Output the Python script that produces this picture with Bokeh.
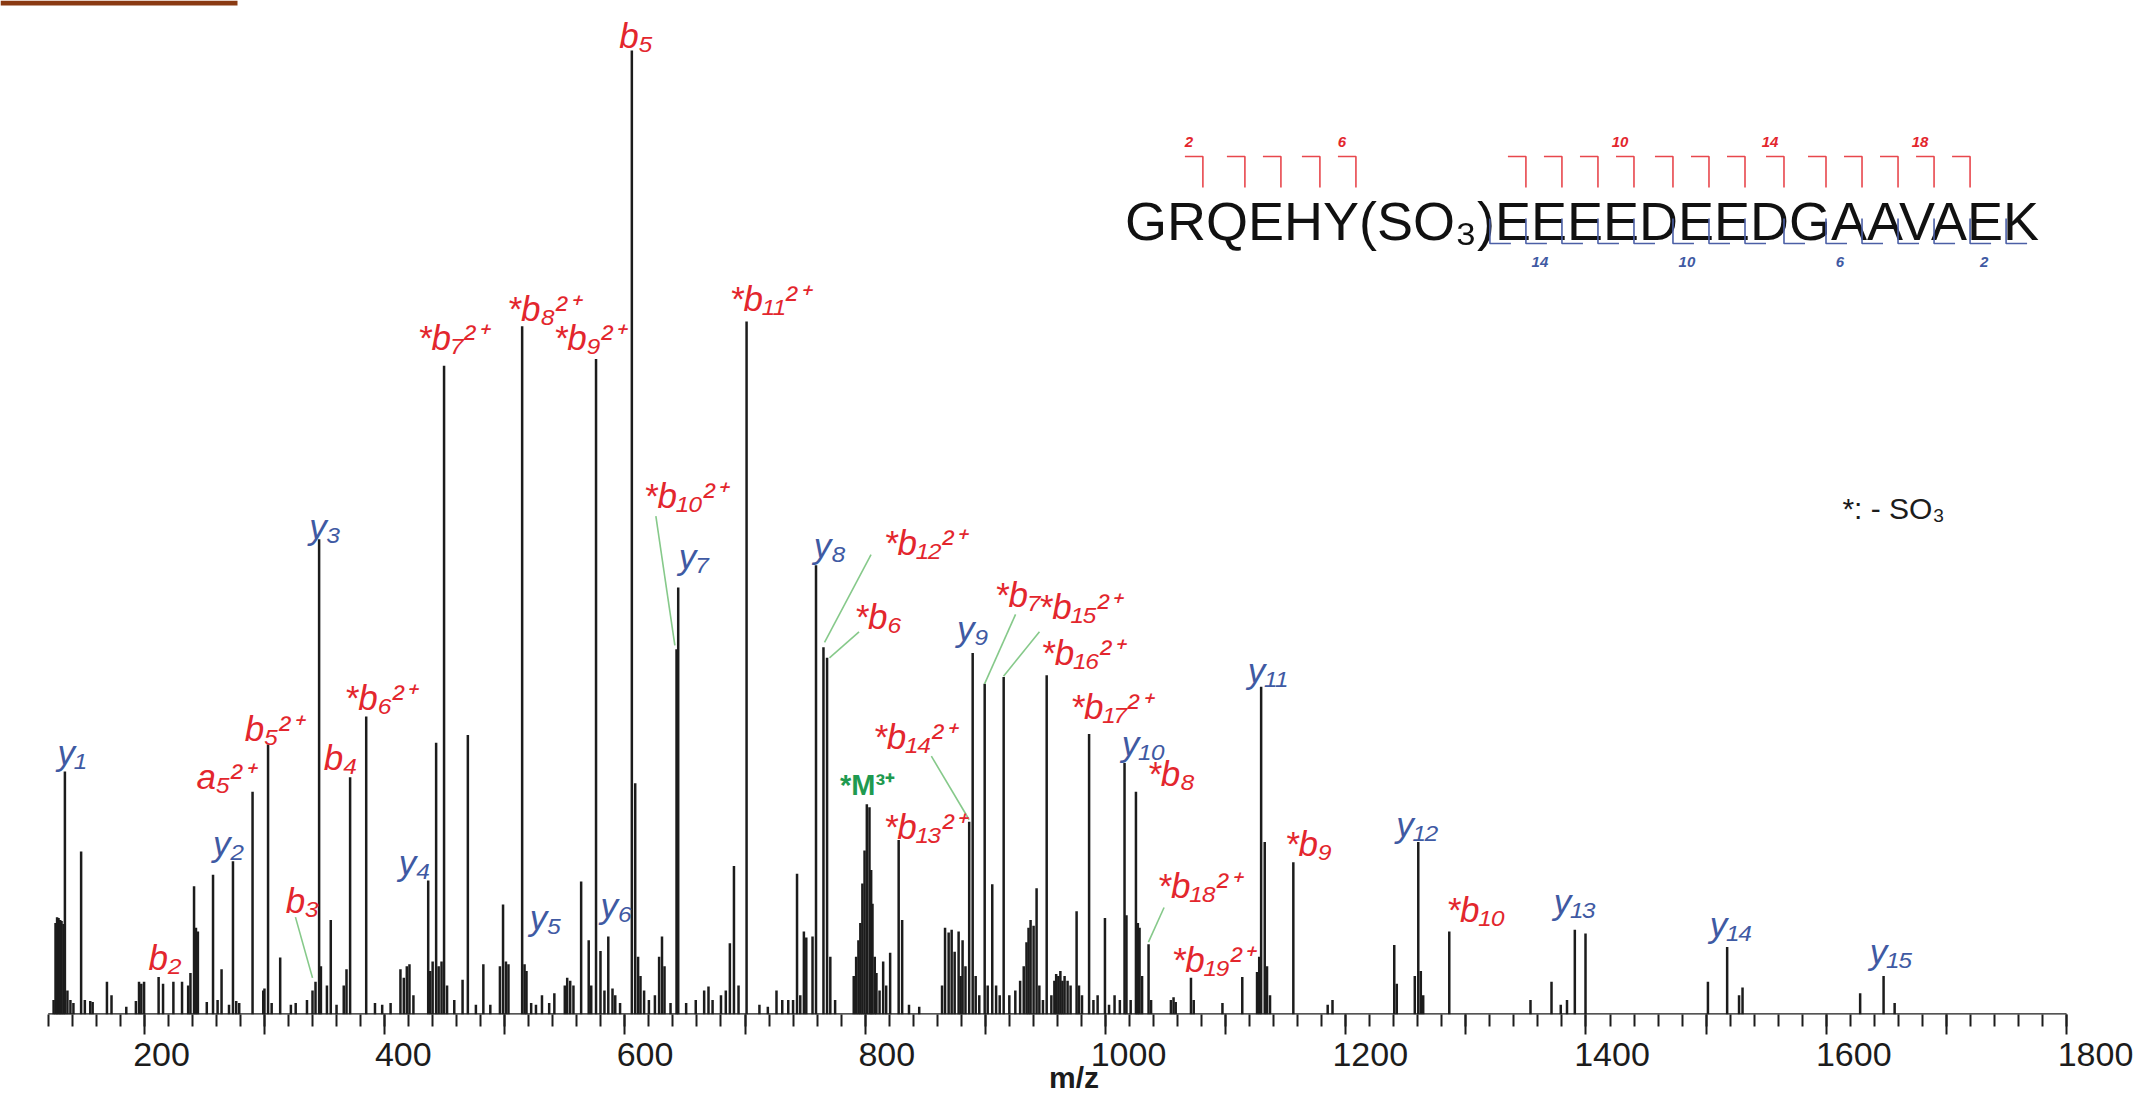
from bokeh.plotting import figure
from bokeh.models import FixedTicker, LinearAxis, Range1d
from bokeh.embed import file_html
from bokeh.resources import INLINE
from bokeh.core.properties import value

# ---------------- data ----------------
PEAK_MZ = [124.5, 126.1, 127.4, 128.6, 130.0, 131.1, 132.7, 133.9, 136.0, 138.5, 141.0, 147.4, 150.5, 155.0, 157.0,
           168.9, 172.7, 185.0, 193.0, 195.6, 197.5, 199.8, 211.9, 215.6, 224.2, 231.4, 236.5, 238.4, 241.4, 243.0,
           244.6, 252.0, 257.2, 261.0, 264.3, 270.5, 273.8, 276.5, 279.0, 290.1, 299.0, 300.0, 303.0, 306.0, 313.1,
           322.0, 326.0, 335.4, 340.0, 342.5, 345.5, 347.0, 352.0, 355.2, 360.0, 366.0, 368.3, 371.3, 384.7, 392.0,
           398.0, 405.0, 413.2, 416.0, 418.5, 420.7, 424.0, 436.3, 438.0, 440.0, 442.9, 445.0, 447.4, 449.5, 452.0,
           458.0, 464.9, 469.3, 476.0, 482.2, 488.0, 496.0, 498.6, 501.0, 503.1, 514.5, 516.5, 518.1, 522.0, 526.0,
           531.0, 537.0, 541.3, 550.0, 552.0, 554.5, 557.2, 563.6, 569.9, 572.0, 576.0, 579.7, 583.0, 586.2, 589.7,
           592.0, 596.0, 605.8, 608.6, 611.0, 613.0, 616.0, 620.0, 625.0, 628.5, 630.9, 633.0, 638.0, 643.0, 644.4,
           651.0, 659.0, 666.0, 669.6, 673.0, 680.0, 684.0, 687.4, 690.8, 694.6, 701.3, 712.0, 719.0, 726.2, 731.0,
           736.0, 740.0, 743.3, 746.0, 749.0, 751.0, 756.2, 759.1, 765.3, 768.3, 771.0, 775.0, 790.5, 792.5, 794.4,
           796.0, 797.7, 799.5, 801.4, 803.6, 805.0, 806.1, 808.0, 809.4, 812.0, 815.0, 817.5, 820.8, 827.9, 830.8,
           836.5, 845.0, 864.0, 866.5, 869.5, 872.0, 874.5, 877.8, 879.5, 881.1, 883.5, 886.6, 889.5, 892.0, 895.0,
           899.5, 902.0, 905.8, 909.0, 912.0, 915.3, 920.0, 925.0, 929.0, 932.0, 934.3, 936.0, 937.7, 940.2, 942.7,
           945.0, 948.0, 951.1, 955.0, 957.5, 959.0, 960.8, 962.5, 964.2, 966.0, 968.5, 971.0, 976.0, 978.0, 980.5,
           986.4, 990.0, 993.5, 999.6, 1003.0, 1007.6, 1012.0, 1015.9, 1017.5, 1021.0, 1025.4, 1027.0, 1028.4, 1030.5,
           1035.9, 1038.0, 1054.5, 1056.7, 1058.5, 1071.2, 1073.5, 1097.4, 1113.9, 1126.2, 1128.0, 1129.6, 1132.6,
           1134.5, 1137.0, 1156.4, 1185.0, 1189.0, 1240.4, 1242.5, 1257.5, 1260.4, 1262.5, 1264.5, 1286.2, 1353.8,
           1371.3, 1379.0, 1384.2, 1390.7, 1399.6, 1501.5, 1517.5, 1527.4, 1530.3, 1628.2, 1647.7, 1656.9]
PEAK_INT = [1.5, 9.5, 10.1, 10.0, 9.8, 9.7, 9.4, 25.2, 2.5, 1.5, 1.2, 16.9, 1.5, 1.4, 1.3,
            3.4, 2.0, 0.8, 1.4, 3.4, 3.2, 3.4, 3.9, 3.2, 3.4, 3.4, 3.0, 4.3, 13.3, 9.0,
            8.6, 1.3, 14.5, 1.5, 4.7, 1.0, 15.9, 1.4, 1.2, 23.1, 2.5, 2.7, 28.0, 1.2, 5.9,
            1.0, 1.2, 1.5, 2.5, 3.4, 49.3, 5.0, 3.0, 9.8, 1.0, 3.0, 4.7, 24.6, 30.9, 1.2,
            1.0, 1.2, 4.7, 3.8, 5.0, 5.2, 2.0, 13.9, 4.5, 5.5, 28.2, 5.0, 5.5, 67.3, 3.0,
            1.5, 3.6, 29.0, 1.0, 5.2, 1.0, 5.0, 11.4, 5.5, 5.2, 71.4, 5.2, 4.5, 1.2, 1.0,
            2.0, 1.2, 2.2, 3.0, 3.8, 3.5, 3.0, 13.8, 7.7, 3.0, 68.0, 6.6, 2.5, 8.1, 2.7,
            2.0, 1.2, 100.0, 24.0, 6.0, 4.0, 2.5, 1.5, 2.0, 6.0, 8.1, 5.0, 1.2, 37.9, 44.3,
            1.2, 1.5, 2.5, 2.9, 1.5, 2.0, 2.5, 7.4, 15.4, 3.0, 71.9, 1.0, 0.8, 2.5, 1.5,
            1.5, 1.5, 14.6, 2.0, 8.6, 8.0, 8.1, 46.6, 38.1, 37.0, 6.0, 1.5, 4.0, 6.0, 7.7,
            9.5, 13.6, 17.0, 21.8, 21.5, 15.0, 11.5, 6.0, 4.3, 2.5, 5.5, 3.0, 6.4, 18.1, 9.8,
            1.0, 0.8, 3.0, 9.0, 8.5, 8.8, 6.5, 8.6, 4.0, 7.7, 5.0, 20.0, 37.5, 4.0, 2.0,
            34.3, 3.0, 13.5, 3.0, 2.0, 35.0, 2.0, 2.5, 3.5, 5.0, 7.5, 9.0, 9.8, 9.2, 13.1,
            3.0, 1.5, 35.2, 2.0, 3.5, 4.2, 4.0, 4.5, 3.5, 4.0, 3.5, 3.0, 10.7, 3.0, 2.0,
            29.1, 1.5, 2.0, 10.0, 1.0, 2.0, 1.5, 26.1, 10.3, 1.5, 23.1, 9.5, 9.0, 4.0,
            7.3, 1.5, 1.5, 1.8, 1.3, 3.8, 1.5, 1.2, 3.9, 4.4, 6.0, 34.0, 17.9,
            5.0, 2.0, 15.8, 1.0, 1.5, 7.2, 3.2, 4.0, 17.9, 4.5, 2.0, 8.6, 1.5,
            3.4, 1.0, 1.5, 8.8, 8.4, 3.4, 7.0, 2.0, 2.8, 2.2, 4.0, 1.2]

# ion annotations (text, label position in m/z and relative intensity, ion series)
ION_TEXT = ["y₁", "b₂", "a₅²⁺", "y₂", "b₅²⁺", "b₃", "y₃", "b₄", "*b₆²⁺", "y₄",
            "*b₇²⁺", "*b₈²⁺", "y₅", "*b₉²⁺", "y₆", "b₅", "*b₁₀²⁺", "y₇", "*b₁₁²⁺", "y₈",
            "*b₁₂²⁺", "*b₆", "*b₁₃²⁺", "*b₁₄²⁺", "y₉", "*b₇", "*b₁₅²⁺", "*b₁₆²⁺", "*b₁₇²⁺", "y₁₀",
            "*b₈", "*b₁₈²⁺", "*b₁₉²⁺", "y₁₁", "*b₉", "y₁₂", "*b₁₀", "y₁₃", "y₁₄", "y₁₅"]
ION_MZ = [139.6, 217.1, 267.2, 270.1, 307.4, 331.7, 350.3, 363.3, 396.2, 424.9,
          456.4, 531.9, 533.9, 570.1, 592.9, 609.3, 650.1, 657.3, 720.2, 770.6,
          849.4, 810.7, 849.4, 840.7, 889.4, 926.8, 978.4, 980.5, 1004.2, 1031.7,
          1054.6, 1077.5, 1089.1, 1134.9, 1169.0, 1259.5, 1308.3, 1390.8, 1520.7, 1654.0]
ION_INT = [27.2, 5.9, 24.7, 17.7, 29.7, 11.8, 50.6, 26.7, 32.9, 15.8,
           70.2, 73.2, 10.1, 70.2, 11.3, 101.6, 53.8, 47.5, 74.3, 48.6,
           49.0, 41.3, 19.5, 28.8, 40.0, 43.6, 42.3, 37.6, 32.0, 28.1,
           25.0, 13.4, 5.7, 35.7, 17.7, 19.7, 10.9, 11.7, 9.3, 6.5]
ION_SERIES = ["y", "b", "b", "y", "b", "b", "y", "b", "b", "y",
              "b", "b", "y", "b", "y", "b", "b", "y", "b", "y",
              "b", "b", "b", "b", "y", "b", "b", "b", "b", "y",
              "b", "b", "b", "y", "b", "y", "b", "y", "y", "y"]
PRECURSOR_TEXT = ["*M³⁺"]
PRECURSOR_MZ = [802.0]
PRECURSOR_INT = [23.8]

# leader lines from label to peak (m/z, intensity)
LEAD_MZ0 = [325.8, 625.8, 804.9, 794.9, 925.2, 945.1, 855.1, 1048.8]
LEAD_INT0 = [10.1, 51.7, 47.7, 39.7, 41.5, 39.7, 26.8, 11.1]
LEAD_MZ1 = [340.0, 641.6, 766.2, 770.3, 899.4, 915.2, 886.6, 1035.8]
LEAD_INT1 = [3.8, 38.3, 38.6, 37.0, 34.3, 35.1, 20.2, 7.5]

SEQ_PARTS = ["G", "R", "Q", "E", "H", "Y", "(SO₃)", "E", "E", "E", "E", "D", "E", "E", "D",
             "G", "A", "A", "V", "A", "E", "K"]
B_IONS = list(range(2, 20))       # b2 .. b19 observed
Y_IONS = list(range(1, 16))       # y1 .. y15 observed
B_NUMBERED = [2, 6, 10, 14, 18]
Y_NUMBERED = [14, 10, 6, 2]

MAJOR_TICKS = list(range(200, 1801, 100))
MINOR_TICKS = list(range(120, 1801, 20))
LABEL_TICKS = list(range(200, 1801, 200))
AXIS_MIN, AXIS_MAX = 120, 1800

# ---------------- layout helpers ----------------
W, H = 2147, 1108
FRAME_BOTTOM = 1014
PX_PER_MZ = 1.2014
PX_PER_INT = 9.64
X0 = AXIS_MIN - 47.7 / PX_PER_MZ
# tick labels of the original sit slightly right of their ticks
LBL_PX_PER_MZ = 1.20875
LBL_X0 = 200 - 161 / LBL_PX_PER_MZ


def mz_of(px):
    return X0 + px / PX_PER_MZ


def int_of(py):
    return (FRAME_BOTTOM - py) / PX_PER_INT


RED = "#e3262d"
BLUE = "#3f5aa3"
GREEN = "#1f9a50"
LEAD = "#86c98a"
INK = "#1c1c1c"

p = figure(width=W, height=H, x_range=(X0, mz_of(W)), y_range=(0, FRAME_BOTTOM / PX_PER_INT),
           output_backend="svg", toolbar_location=None, y_axis_location=None,
           min_border_left=0, min_border_right=0, min_border_top=0,
           min_border_bottom=H - FRAME_BOTTOM, outline_line_color=None,
           background_fill_color="white", border_fill_color="white")
p.grid.visible = False
p.extra_x_ranges = {"lbl": Range1d(LBL_X0, LBL_X0 + W / LBL_PX_PER_MZ)}

# tick axis (ticks only)
ax = p.xaxis[0]
ax.ticker = FixedTicker(ticks=MAJOR_TICKS, minor_ticks=MINOR_TICKS)
ax.major_label_overrides = {t: "" for t in MAJOR_TICKS}
ax.major_label_text_font_size = "0px"
ax.major_label_standoff = 0
ax.axis_line_color = None
ax.major_tick_line_color = INK
ax.major_tick_line_width = 2
ax.minor_tick_line_color = INK
ax.minor_tick_line_width = 2
ax.major_tick_in = 0
ax.major_tick_out = 20
ax.minor_tick_in = 0
ax.minor_tick_out = 12

# label axis (tick labels + title)
ax2 = LinearAxis(x_range_name="lbl", ticker=FixedTicker(ticks=LABEL_TICKS, minor_ticks=[]),
                 axis_line_color=None, major_tick_line_color=None, minor_tick_line_color=None,
                 major_tick_in=0, major_tick_out=0, minor_tick_in=0, minor_tick_out=0,
                 major_label_standoff=8,
                 major_label_text_font="Liberation Sans", major_label_text_font_size="34px",
                 major_label_text_color=INK,
                 axis_label="m/z", axis_label_text_font="Liberation Sans",
                 axis_label_text_font_style="bold", axis_label_text_font_size="30px",
                 axis_label_text_color=INK, axis_label_standoff=-8)
p.add_layout(ax2, "below")

# decorative slide bar (top-left)
p.quad(left=[mz_of(0)], right=[mz_of(237)], top=[int_of(0)], bottom=[int_of(5)],
       fill_color="#8a3a12", line_color=None)

# baseline
p.segment(x0=[AXIS_MIN], y0=[0], x1=[AXIS_MAX], y1=[0], line_color=INK, line_width=2.5)

# peaks
p.segment(x0=PEAK_MZ, y0=[0] * len(PEAK_MZ), x1=PEAK_MZ, y1=PEAK_INT, line_color=INK, line_width=2.5)

# leader lines
p.segment(x0=LEAD_MZ0, y0=LEAD_INT0, x1=LEAD_MZ1, y1=LEAD_INT1, line_color=LEAD, line_width=1.6)

# ion labels
ion_colors = [RED if s == "b" else BLUE for s in ION_SERIES]
p.text(x=ION_MZ, y=ION_INT, text=ION_TEXT, text_color=ion_colors,
       text_font=value("Liberation Sans"), text_font_style="italic", text_font_size="35px",
       text_align="center", text_baseline="middle")
p.text(x=PRECURSOR_MZ, y=PRECURSOR_INT, text=PRECURSOR_TEXT, text_color=GREEN,
       text_font=value("Liberation Sans"), text_font_style="bold", text_font_size="29px",
       text_align="center", text_baseline="middle")

# legend note
p.text(x=[mz_of(1893)], y=[int_of(508)], text=["*: - SO₃"], text_color=INK,
       text_font=value("Liberation Sans"), text_font_size="30px",
       text_align="center", text_baseline="middle")

# ---------------- peptide sequence with fragment brackets ----------------
EM = {"G": .778, "R": .722, "Q": .778, "E": .667, "H": .722, "Y": .667, "D": .722,
      "A": .667, "V": .667, "K": .667}
FS = 54
part_w = [(EM[s] if s in EM else (.333 + .667 + .778 + .37 + .333)) * FS for s in SEQ_PARTS]
total_w = sum(part_w)
seq_cx = 1581.5
seq_base = 220
left = seq_cx - total_w / 2
bounds = [left]
for w in part_w:
    bounds.append(bounds[-1] + w)   # bounds[i] = left edge of part i

p.text(x=[mz_of(seq_cx)], y=[int_of(seq_base)], text=["".join(SEQ_PARTS)], text_color="#111111",
       text_font=value("Liberation Sans"), text_font_size=f"{FS}px",
       text_align="center", text_baseline="alphabetic")


def after_residue(k, for_y=False):
    # residue k (1-based); parts index: residues 1..6 -> 0..5, residue >=7 -> k
    if k <= 6:
        if k == 6 and for_y:
            return bounds[7]  # after the (SO3) group
        return bounds[k]
    return bounds[k + 1]


bx = [after_residue(n) for n in B_IONS]
rt, rb, rh = 156, 187, 18
p.multi_line(xs=[[mz_of(x - rh), mz_of(x), mz_of(x)] for x in bx],
             ys=[[int_of(rt), int_of(rt), int_of(rb)] for _ in bx], line_color="#e8474d", line_width=1.6)
p.text(x=[mz_of(after_residue(n) - 14) for n in B_NUMBERED], y=[int_of(141)] * len(B_NUMBERED),
       text=[str(n) for n in B_NUMBERED], text_color=RED, text_font=value("Liberation Sans"),
       text_font_style="bold italic", text_font_size="15px", text_align="center", text_baseline="middle")

yx = [after_residue(21 - m, for_y=True) for m in Y_IONS]
bt, bb, bh = 218, 243, 21
p.multi_line(xs=[[mz_of(x), mz_of(x), mz_of(x + bh)] for x in yx],
             ys=[[int_of(bt), int_of(bb), int_of(bb)] for _ in yx], line_color="#4b5fa6", line_width=1.6)
p.text(x=[mz_of(after_residue(21 - m, for_y=True) + 14) for m in Y_NUMBERED], y=[int_of(261)] * len(Y_NUMBERED),
       text=[str(m) for m in Y_NUMBERED], text_color=BLUE, text_font=value("Liberation Sans"),
       text_font_style="bold italic", text_font_size="15px", text_align="center", text_baseline="middle")

open("out.html", "w", encoding="utf-8").write(file_html(p, INLINE))
